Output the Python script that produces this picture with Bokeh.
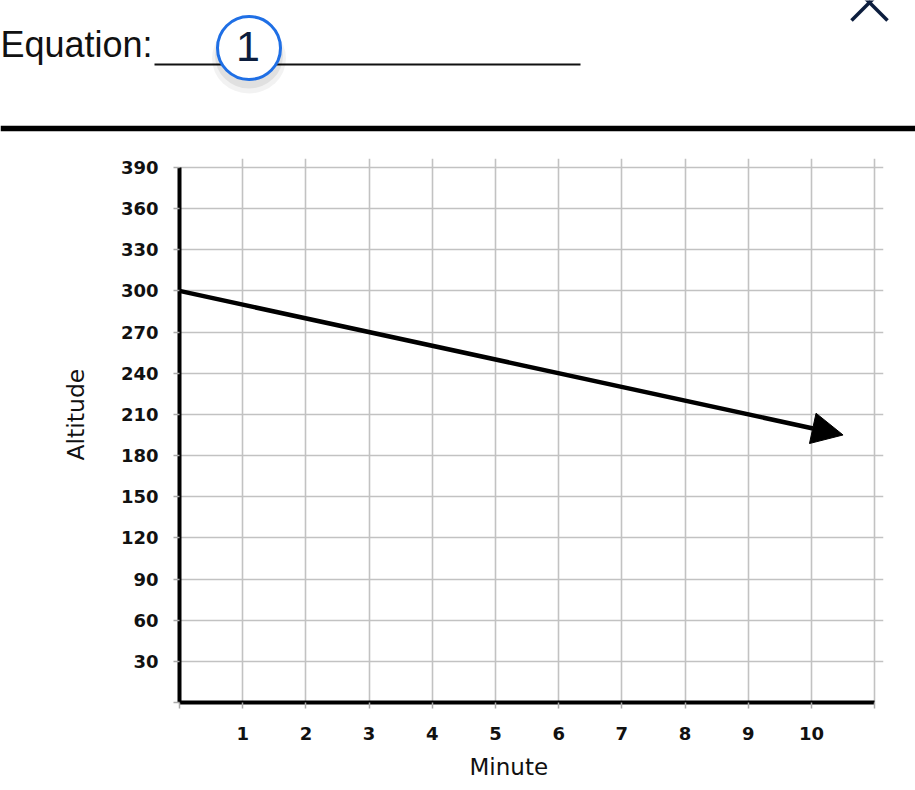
from bokeh.plotting import figure
from bokeh.models import Range1d, FixedTicker, Arrow, NormalHead, Title
from bokeh.embed import file_html
from bokeh.resources import INLINE
from bokeh.core.properties import value

# ---- data ----
minutes = [0, 10.5]
altitude = [300, 195]
x_ticks = list(range(0, 12))
y_ticks = list(range(0, 391, 30))
x_tick_labels = {t: ("" if t in (0, 11) else str(t)) for t in x_ticks}
y_tick_labels = {t: ("" if t == 0 else str(t)) for t in y_ticks}
title_text = "Equation:"
badge_text = "1"
x_label = "Minute"
y_label = "Altitude"

W = 915
HH = 140
NAVY = "#0c1d3d"

# ---- header ----
hdr = figure(width=W, height=HH, x_range=Range1d(0, W), y_range=Range1d(HH, 0),
             output_backend="svg", toolbar_location=None, min_border=0,
             x_axis_location=None, y_axis_location=None)
hdr.grid.visible = False
hdr.outline_line_color = None
hdr.background_fill_color = "white"
hdr.border_fill_color = "white"

hdr.text(x=[152], y=[44], text=[title_text], text_font=value("Liberation Sans"),
         text_font_size="36px", text_align="right", text_baseline="alphabetic",
         text_color="#111111")
hdr.segment(x0=[154], y0=[64], x1=[580], y1=[64], line_width=2, line_color="#111111")
# badge shadow
hdr.ellipse(x=[248.5], y=[58], width=74, height=70, fill_color="black", fill_alpha=0.05, line_color=None)
hdr.ellipse(x=[248.5], y=[55], width=68, height=66, fill_color="black", fill_alpha=0.07, line_color=None)
hdr.scatter(x=[248.5], y=[47.5], marker="circle", size=63, fill_color="white",
            line_color="#1f6fe5", line_width=3)
hdr.text(x=[247.5], y=[46], text=[badge_text], text_font=value("Liberation Sans"),
         text_font_size="43px", text_align="center", text_baseline="alphabetic",
         text_color=NAVY)
# close mark (partly outside view)
hdr.segment(x0=[851, 887], y0=[20, 20], x1=[873, 865], y1=[-2, -2],
            line_width=3.5, line_color=NAVY)
# divider
hdr.segment(x0=[0], y0=[128], x1=[W], y1=[128], line_width=5.5, line_color="black")

# ---- chart ----
p = figure(width=W, height=649, x_range=Range1d(0, 11.14), y_range=Range1d(0, 396.5),
           output_backend="svg", toolbar_location=None,
           min_border_left=179, min_border_right=32, min_border_top=18, min_border_bottom=87)
p.outline_line_color = None
p.background_fill_color = "white"
p.border_fill_color = "white"

p.xaxis.ticker = FixedTicker(ticks=x_ticks)
p.yaxis.ticker = FixedTicker(ticks=y_ticks)
p.xaxis.major_label_overrides = x_tick_labels
p.yaxis.major_label_overrides = y_tick_labels
p.xaxis.bounds = (x_ticks[0], x_ticks[-1])
p.yaxis.bounds = (y_ticks[0], y_ticks[-1])

for ax in (p.xaxis, p.yaxis):
    ax.axis_line_width = 4
    ax.axis_line_color = "black"
    ax.major_tick_in = 0
    ax.major_tick_out = 6
    ax.major_tick_line_color = "#aaaaaa"
    ax.major_tick_line_width = 1.5
    ax.minor_tick_line_color = None
    ax.major_label_text_font = "DejaVu Sans"
    ax.major_label_text_font_style = "bold"
    ax.major_label_text_font_size = "18px"
    ax.major_label_text_color = "#111111"
p.yaxis.major_label_standoff = 15
p.xaxis.major_label_standoff = 18

p.grid.grid_line_color = "#c2c2c2"
p.grid.grid_line_width = 1.6
p.xgrid.ticker = FixedTicker(ticks=x_ticks)
p.ygrid.ticker = FixedTicker(ticks=y_ticks)

# axis titles placed with offsets like the reference
p.add_layout(Title(text=x_label, align="left", offset=290, standoff=19,
                   text_font="DejaVu Sans", text_font_style="normal",
                   text_font_size="23px", text_color="#111111"), "below")
p.add_layout(Title(text=y_label, align="left", offset=242, standoff=56,
                   text_font="DejaVu Sans", text_font_style="normal",
                   text_font_size="23.5px", text_color="#111111"), "left")

p.add_layout(Arrow(end=NormalHead(size=31, fill_color="black", line_color="black"),
                   x_start=minutes[0], y_start=altitude[0],
                   x_end=minutes[1], y_end=altitude[1],
                   line_width=4.5, line_color="black"))

open("out.html", "w").write(file_html([hdr, p], INLINE))
